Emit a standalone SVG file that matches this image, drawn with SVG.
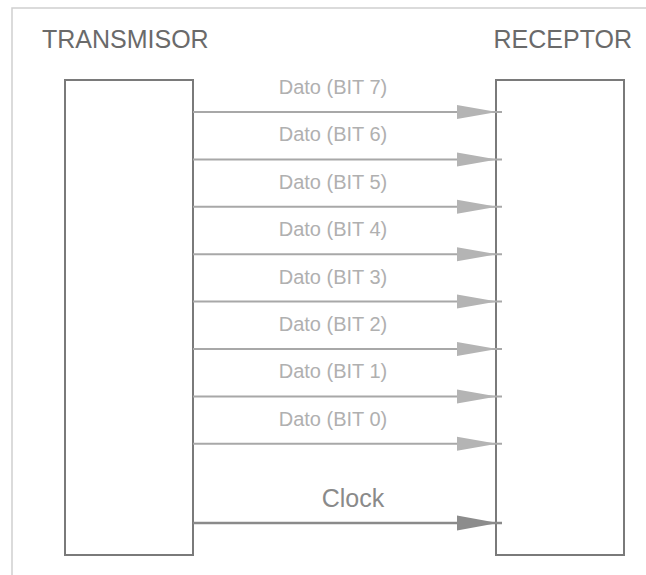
<svg xmlns="http://www.w3.org/2000/svg" width="646" height="575" viewBox="0 0 646 575">
<style>
.frame{fill:none;stroke:#cfcfcf;stroke-width:1.5}
.box{fill:#fff;stroke:#7a7a7a;stroke-width:2}
.title{font-family:"Liberation Sans",Arial,sans-serif;font-size:25px;fill:#6a6a6a}
.lbl{font-family:"Liberation Sans",Arial,sans-serif;font-size:20px;fill:#b0b0b0;text-anchor:middle}
.clk{font-family:"Liberation Sans",Arial,sans-serif;font-size:25px;fill:#8a8a8a;text-anchor:middle}
.wire{stroke:#a8a8a8;stroke-width:2;fill:none}
.head{fill:#b4b4b4}
.wire2{stroke:#8a8a8a;stroke-width:2.5;fill:none}
.head2{fill:#8c8c8c}
</style>
<rect width="646" height="575" fill="#fff"/>
<rect class="frame" x="12" y="8" width="650" height="580"/>
<g id="transmisor">
<rect class="box" x="65" y="80" width="128" height="475"/>
<text class="title" x="42" y="48">TRANSMISOR</text>
</g>
<g id="receptor">
<rect class="box" x="496" y="80" width="128" height="475"/>
<text class="title" x="632" y="48" text-anchor="end">RECEPTOR</text>
</g>
<g id="connectors">
<g>
<line class="wire" x1="193" y1="112" x2="502" y2="112"/><polygon class="head" points="457,105 497,112 457,119"/>
<text class="lbl" x="333" y="94">Dato (BIT 7)</text>
</g>
<g>
<line class="wire" x1="193" y1="159.4" x2="502" y2="159.4"/><polygon class="head" points="457,152.4 497,159.4 457,166.4"/>
<text class="lbl" x="333" y="141.4">Dato (BIT 6)</text>
</g>
<g>
<line class="wire" x1="193" y1="206.8" x2="502" y2="206.8"/><polygon class="head" points="457,199.8 497,206.8 457,213.8"/>
<text class="lbl" x="333" y="188.8">Dato (BIT 5)</text>
</g>
<g>
<line class="wire" x1="193" y1="254.2" x2="502" y2="254.2"/><polygon class="head" points="457,247.2 497,254.2 457,261.2"/>
<text class="lbl" x="333" y="236.2">Dato (BIT 4)</text>
</g>
<g>
<line class="wire" x1="193" y1="301.6" x2="502" y2="301.6"/><polygon class="head" points="457,294.6 497,301.6 457,308.6"/>
<text class="lbl" x="333" y="283.6">Dato (BIT 3)</text>
</g>
<g>
<line class="wire" x1="193" y1="349" x2="502" y2="349"/><polygon class="head" points="457,342 497,349 457,356"/>
<text class="lbl" x="333" y="331">Dato (BIT 2)</text>
</g>
<g>
<line class="wire" x1="193" y1="396.4" x2="502" y2="396.4"/><polygon class="head" points="457,389.4 497,396.4 457,403.4"/>
<text class="lbl" x="333" y="378.4">Dato (BIT 1)</text>
</g>
<g>
<line class="wire" x1="193" y1="443.8" x2="502" y2="443.8"/><polygon class="head" points="457,436.8 497,443.8 457,450.8"/>
<text class="lbl" x="333" y="425.8">Dato (BIT 0)</text>
</g>
<g>
<line class="wire2" x1="193" y1="523" x2="502" y2="523"/><polygon class="head2" points="457,515.5 498,523 457,530.5"/>
<text class="clk" x="353" y="507">Clock</text>
</g>
</g>
</svg>
